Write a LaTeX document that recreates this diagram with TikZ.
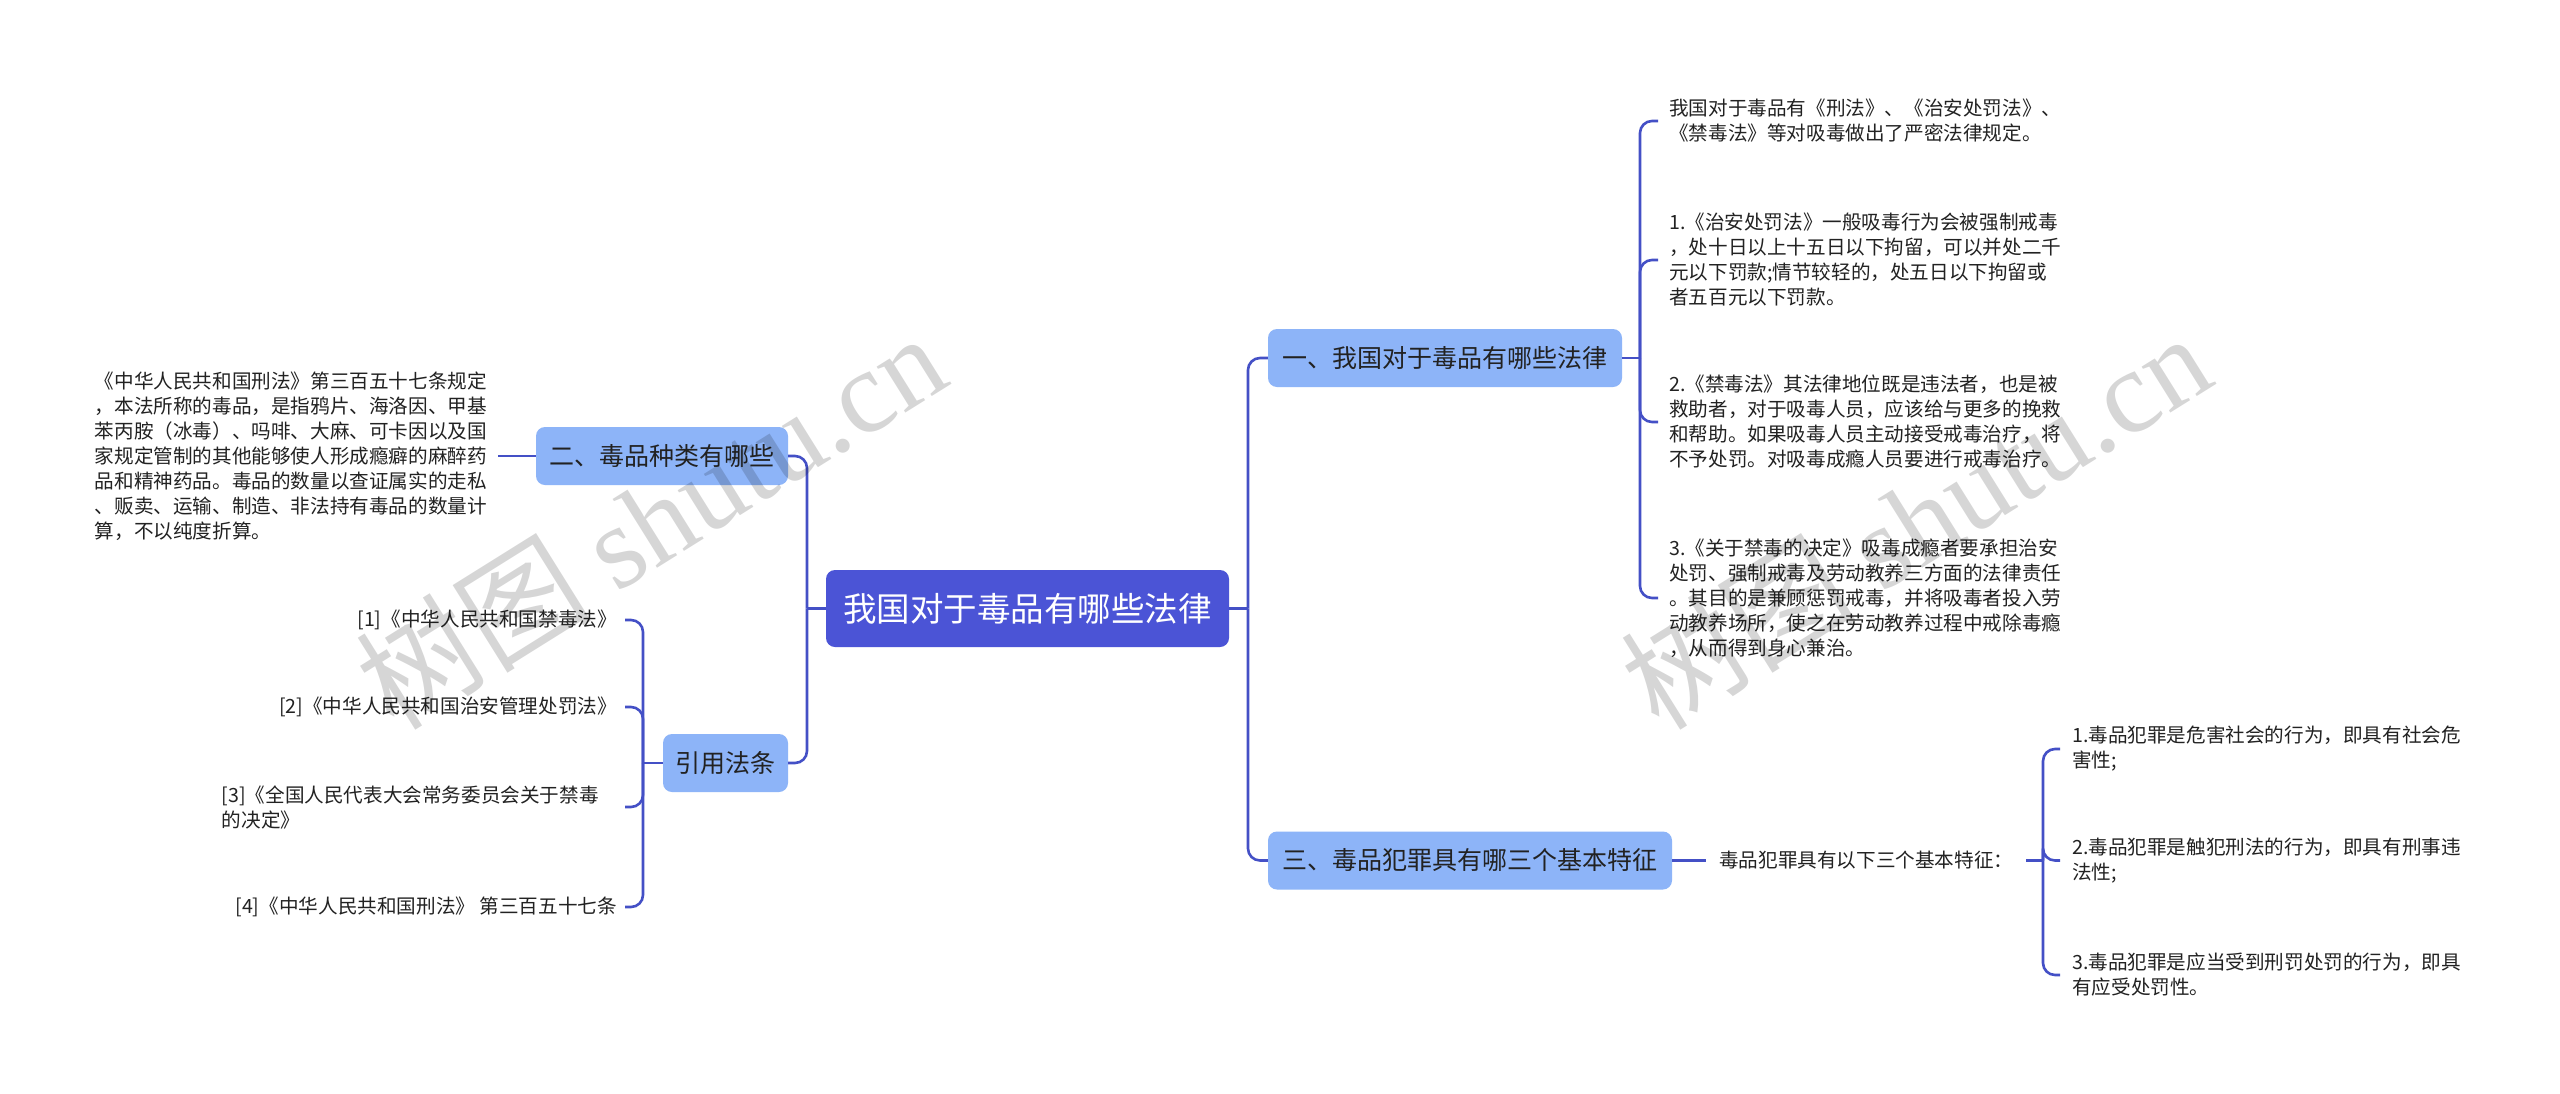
\documentclass[tikz,border=0pt]{standalone}
\usepackage{fontspec}
\setmainfont{Noto Sans CJK SC}
\newfontfamily\cjkfont{Noto Sans CJK SC}
\newfontfamily\wmserif{Liberation Serif}
\definecolor{rootc}{HTML}{4B54D6}
\definecolor{linec}{HTML}{4450C6}
\definecolor{lonec}{HTML}{8DB4F8}
\definecolor{txt}{HTML}{222222}
\tikzset{
  rootbox/.style={fill=rootc, text=white, rounded corners=9pt, minimum width=403pt,
    minimum height=77pt, inner sep=0pt, font=\fontsize{33.5}{40}\selectfont},
  lonebox/.style={fill=lonec, text=txt, rounded corners=9pt, minimum height=58pt,
    inner sep=0pt, font=\fontsize{25}{30}\selectfont},
  leaf/.style={text=txt, inner xsep=11pt, inner ysep=0pt, align=left,
    font=\fontsize{19.6}{25}\selectfont},
  conn/.style={draw=linec, line width=2.6pt},
  curl/.style={conn, rounded corners=12pt},
  wm/.style={rotate=32, text=black, text opacity=0.16, inner sep=0pt,
    font=\fontsize{118}{130}\selectfont}
}
\begin{document}
\begin{tikzpicture}[x=1pt,y=-1pt]
\useasboundingbox (0,0) rectangle (2560,1093);
\fill[white] (0,0) rectangle (2560,1093);

% main nodes
\node[rootbox] (root) at (1027.5,608.5) {我国对于毒品有哪些法律};
\node[lonebox, minimum width=354pt] (n1) at (1445,358) {一、我国对于毒品有哪些法律};
\node[lonebox, minimum width=404pt] (n3) at (1470,860.5) {三、毒品犯罪具有哪三个基本特征};
\node[lonebox, minimum width=252pt] (n2) at (662,456) {二、毒品种类有哪些};
\node[lonebox, minimum width=125pt] (n4) at (725.5,763) {引用法条};

% right branch 1 leaves
\node[leaf, anchor=west] (c1) at (1658,121) {我国对于毒品有《刑法》、《治安处罚法》、\\《禁毒法》等对吸毒做出了严密法律规定。};
\node[leaf, anchor=west] (c2) at (1658,260) {1.《治安处罚法》一般吸毒行为会被强制戒毒\\，处十日以上十五日以下拘留，可以并处二千\\元以下罚款;情节较轻的，处五日以下拘留或\\者五百元以下罚款。};
\node[leaf, anchor=west] (c3) at (1658,422) {2.《禁毒法》其法律地位既是违法者，也是被\\救助者，对于吸毒人员，应该给与更多的挽救\\和帮助。如果吸毒人员主动接受戒毒治疗，将\\不予处罚。对吸毒成瘾人员要进行戒毒治疗。};
\node[leaf, anchor=west] (c4) at (1658,598) {3.《关于禁毒的决定》吸毒成瘾者要承担治安\\处罚、强制戒毒及劳动教养三方面的法律责任\\。其目的是兼顾惩罚戒毒，并将吸毒者投入劳\\动教养场所，使之在劳动教养过程中戒除毒瘾\\，从而得到身心兼治。};

% right branch 3
\node[leaf, anchor=west, inner xsep=13pt] (t3) at (1706,860.5) {毒品犯罪具有以下三个基本特征：};
\node[leaf, anchor=west, inner xsep=12pt] (f1) at (2060,749) {1.毒品犯罪是危害社会的行为，即具有社会危\\害性;};
\node[leaf, anchor=west, inner xsep=12pt] (f2) at (2060,860.5) {2.毒品犯罪是触犯刑法的行为，即具有刑事违\\法性;};
\node[leaf, anchor=west, inner xsep=12pt] (f3) at (2060,975) {3.毒品犯罪是应当受到刑罚处罚的行为，即具\\有应受处罚性。};

% left branch 2
\node[leaf, anchor=east] (t2) at (498,456) {《中华人民共和国刑法》第三百五十七条规定\\，本法所称的毒品，是指鸦片、海洛因、甲基\\苯丙胺（冰毒）、吗啡、大麻、可卡因以及国\\家规定管制的其他能够使人形成瘾癖的麻醉药\\品和精神药品。毒品的数量以查证属实的走私\\、贩卖、运输、制造、非法持有毒品的数量计\\算，不以纯度折算。};

% references
\node[leaf, anchor=east, inner xsep=8pt] (r1) at (625,620) {[1]《中华人民共和国禁毒法》};
\node[leaf, anchor=east, inner xsep=8pt] (r2) at (625,707) {[2]《中华人民共和国治安管理处罚法》};
\node[leaf, anchor=east, inner xsep=8pt, text width=395pt] (r3) at (625,807) {[3]《全国人民代表大会常务委员会关于禁毒\\的决定》};
\node[leaf, anchor=east, inner xsep=8pt] (r4) at (625,907) {[4]《中华人民共和国刑法》 第三百五十七条};

% junction coordinates
\coordinate (vr) at (1248,608.5);
\coordinate (vl) at (807,608.5);
\coordinate (v1) at (1640,358);
\coordinate (v3) at (2043,860.5);
\coordinate (v4) at (643,763);

% connectors
\draw[conn] (root.east) -- (vr);
\draw[curl] (vr) |- (n1.west);
\draw[curl] (vr) |- (n3.west);
\draw[conn] (root.west) -- (vl);
\draw[curl] (vl) |- (n2.east);
\draw[curl] (vl) |- (n4.east);

\draw[conn] (n1.east) -- (v1);
\foreach \c in {c1,c2,c3,c4} { \draw[curl] (v1) |- (\c.west); }

\draw[conn] (n3.east) -- (t3.west);
\draw[conn] (t3.east) -- (v3);
\foreach \c in {f1,f2,f3} { \draw[curl] (v3) |- (\c.west); }

\draw[conn] (n2.west) -- (t2.east);

\draw[conn] (n4.west) -- (v4);
\foreach \c in {r1,r2,r3,r4} { \draw[curl] (v4) |- (\c.east); }

% watermarks
\node[wm] (wm1) at (650,520) {{\cjkfont 树图} {\wmserif shutu.cn}};
\node[wm] (wm2) at (1915,520) {{\cjkfont 树图} {\wmserif shutu.cn}};
\end{tikzpicture}
\end{document}
